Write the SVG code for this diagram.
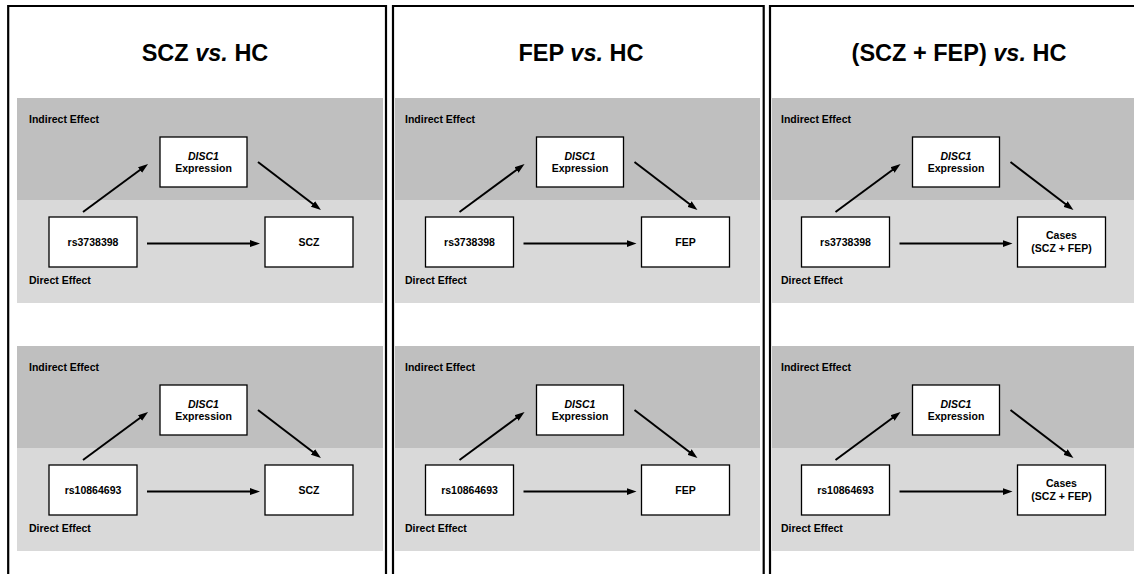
<svg xmlns="http://www.w3.org/2000/svg" width="1134" height="574" viewBox="0 0 1134 574">
<style>
.bg{fill:#fff}
.frame{fill:none;stroke:#000;stroke-width:2.2}
.dark{fill:#bfbfbf}
.light{fill:#d9d9d9}
.box{fill:#fff;stroke:#000;stroke-width:1.3}
.t{font-family:"Liberation Sans",Arial,sans-serif;font-weight:bold;font-size:10.5px;fill:#000}
.c{text-anchor:middle}
.title{font-size:23.5px}
.i{font-style:italic}
.arr{fill:none;stroke:#000;stroke-width:2;marker-end:url(#ah)}
</style>
<defs>
<marker id="ah" markerUnits="userSpaceOnUse" markerWidth="10" markerHeight="8" refX="2" refY="4" orient="auto">
<path d="M0,0.5 L10,4 L0,7.5 z" fill="#000"/>
</marker>
</defs>
<rect class="bg" x="0" y="0" width="1134" height="574"/>

<g id="bands">
<rect class="dark" x="17" y="98" width="366" height="102"/>
<rect class="light" x="17" y="200" width="366" height="103"/>
<rect class="dark" x="17" y="346" width="366" height="102"/>
<rect class="light" x="17" y="448" width="366" height="103"/>
<rect class="dark" x="395" y="98" width="365" height="102"/>
<rect class="light" x="395" y="200" width="365" height="103"/>
<rect class="dark" x="395" y="346" width="365" height="102"/>
<rect class="light" x="395" y="448" width="365" height="103"/>
<rect class="dark" x="772" y="98" width="362" height="102"/>
<rect class="light" x="772" y="200" width="362" height="103"/>
<rect class="dark" x="772" y="346" width="362" height="102"/>
<rect class="light" x="772" y="448" width="362" height="103"/>
</g>

<g id="frames">
<path class="frame" d="M8.2,580 V6 H386 V580"/>
<path class="frame" d="M393,580 V6 H763.7 V580"/>
<path class="frame" d="M770,580 V6 H1140"/>
</g>

<g id="titles">
<text class="t c title" x="205" y="61">SCZ <tspan class="i">vs.</tspan> HC</text>
<text class="t c title" x="581" y="61">FEP <tspan class="i">vs.</tspan> HC</text>
<text class="t c title" x="959" y="61">(SCZ + FEP) <tspan class="i">vs.</tspan> HC</text>
</g>

<g id="effect-labels">
<text class="t" x="29" y="122.7">Indirect Effect</text>
<text class="t" x="29" y="284">Direct Effect</text>
<text class="t" x="29" y="370.7">Indirect Effect</text>
<text class="t" x="29" y="532">Direct Effect</text>
<text class="t" x="405" y="122.7">Indirect Effect</text>
<text class="t" x="405" y="284">Direct Effect</text>
<text class="t" x="405" y="370.7">Indirect Effect</text>
<text class="t" x="405" y="532">Direct Effect</text>
<text class="t" x="781" y="122.7">Indirect Effect</text>
<text class="t" x="781" y="284">Direct Effect</text>
<text class="t" x="781" y="370.7">Indirect Effect</text>
<text class="t" x="781" y="532">Direct Effect</text>
</g>

<g id="connectors">
<g transform="translate(0,0)">
<path class="arr" d="M83,212 L141.6,168.8"/>
<path class="arr" d="M258,162 L314.6,205.2"/>
<path class="arr" d="M147,243.6 L252,243.6"/>
</g>
<g transform="translate(0,248)">
<path class="arr" d="M83,212 L141.6,168.8"/>
<path class="arr" d="M258,162 L314.6,205.2"/>
<path class="arr" d="M147,243.6 L252,243.6"/>
</g>
<g transform="translate(376.5,0)">
<path class="arr" d="M83,212 L141.6,168.8"/>
<path class="arr" d="M258,162 L314.6,205.2"/>
<path class="arr" d="M147,243.6 L252,243.6"/>
</g>
<g transform="translate(376.5,248)">
<path class="arr" d="M83,212 L141.6,168.8"/>
<path class="arr" d="M258,162 L314.6,205.2"/>
<path class="arr" d="M147,243.6 L252,243.6"/>
</g>
<g transform="translate(752.5,0)">
<path class="arr" d="M83,212 L141.6,168.8"/>
<path class="arr" d="M258,162 L314.6,205.2"/>
<path class="arr" d="M147,243.6 L252,243.6"/>
</g>
<g transform="translate(752.5,248)">
<path class="arr" d="M83,212 L141.6,168.8"/>
<path class="arr" d="M258,162 L314.6,205.2"/>
<path class="arr" d="M147,243.6 L252,243.6"/>
</g>
</g>

<g id="p1-top" transform="translate(0,0)">
<g id="p1-top-disc1"><rect class="box" x="160" y="137" width="87" height="50"/><text class="t c i" x="203.5" y="159.5">DISC1</text><text class="t c" x="203.5" y="171.5">Expression</text></g>
<g id="p1-top-snp"><rect class="box" x="49" y="217" width="88" height="50"/><text class="t c" x="93" y="245.8">rs3738398</text></g>
<g id="p1-top-out"><rect class="box" x="265" y="217" width="88" height="50"/><text class="t c" x="309" y="245.8">SCZ</text></g>
</g>
<g id="p1-bot" transform="translate(0,248)">
<g id="p1-bot-disc1"><rect class="box" x="160" y="137" width="87" height="50"/><text class="t c i" x="203.5" y="159.5">DISC1</text><text class="t c" x="203.5" y="171.5">Expression</text></g>
<g id="p1-bot-snp"><rect class="box" x="49" y="217" width="88" height="50"/><text class="t c" x="93" y="245.8">rs10864693</text></g>
<g id="p1-bot-out"><rect class="box" x="265" y="217" width="88" height="50"/><text class="t c" x="309" y="245.8">SCZ</text></g>
</g>

<g id="p2-top" transform="translate(376.5,0)">
<g id="p2-top-disc1"><rect class="box" x="160" y="137" width="87" height="50"/><text class="t c i" x="203.5" y="159.5">DISC1</text><text class="t c" x="203.5" y="171.5">Expression</text></g>
<g id="p2-top-snp"><rect class="box" x="49" y="217" width="88" height="50"/><text class="t c" x="93" y="245.8">rs3738398</text></g>
<g id="p2-top-out"><rect class="box" x="265" y="217" width="88" height="50"/><text class="t c" x="309" y="245.8">FEP</text></g>
</g>
<g id="p2-bot" transform="translate(376.5,248)">
<g id="p2-bot-disc1"><rect class="box" x="160" y="137" width="87" height="50"/><text class="t c i" x="203.5" y="159.5">DISC1</text><text class="t c" x="203.5" y="171.5">Expression</text></g>
<g id="p2-bot-snp"><rect class="box" x="49" y="217" width="88" height="50"/><text class="t c" x="93" y="245.8">rs10864693</text></g>
<g id="p2-bot-out"><rect class="box" x="265" y="217" width="88" height="50"/><text class="t c" x="309" y="245.8">FEP</text></g>
</g>

<g id="p3-top" transform="translate(752.5,0)">
<g id="p3-top-disc1"><rect class="box" x="160" y="137" width="87" height="50"/><text class="t c i" x="203.5" y="159.5">DISC1</text><text class="t c" x="203.5" y="171.5">Expression</text></g>
<g id="p3-top-snp"><rect class="box" x="49" y="217" width="88" height="50"/><text class="t c" x="93" y="245.8">rs3738398</text></g>
<g id="p3-top-out"><rect class="box" x="265" y="217" width="88" height="50"/><text class="t c" x="309" y="238.5">Cases</text><text class="t c" x="309" y="251.5">(SCZ + FEP)</text></g>
</g>
<g id="p3-bot" transform="translate(752.5,248)">
<g id="p3-bot-disc1"><rect class="box" x="160" y="137" width="87" height="50"/><text class="t c i" x="203.5" y="159.5">DISC1</text><text class="t c" x="203.5" y="171.5">Expression</text></g>
<g id="p3-bot-snp"><rect class="box" x="49" y="217" width="88" height="50"/><text class="t c" x="93" y="245.8">rs10864693</text></g>
<g id="p3-bot-out"><rect class="box" x="265" y="217" width="88" height="50"/><text class="t c" x="309" y="238.5">Cases</text><text class="t c" x="309" y="251.5">(SCZ + FEP)</text></g>
</g>
</svg>
